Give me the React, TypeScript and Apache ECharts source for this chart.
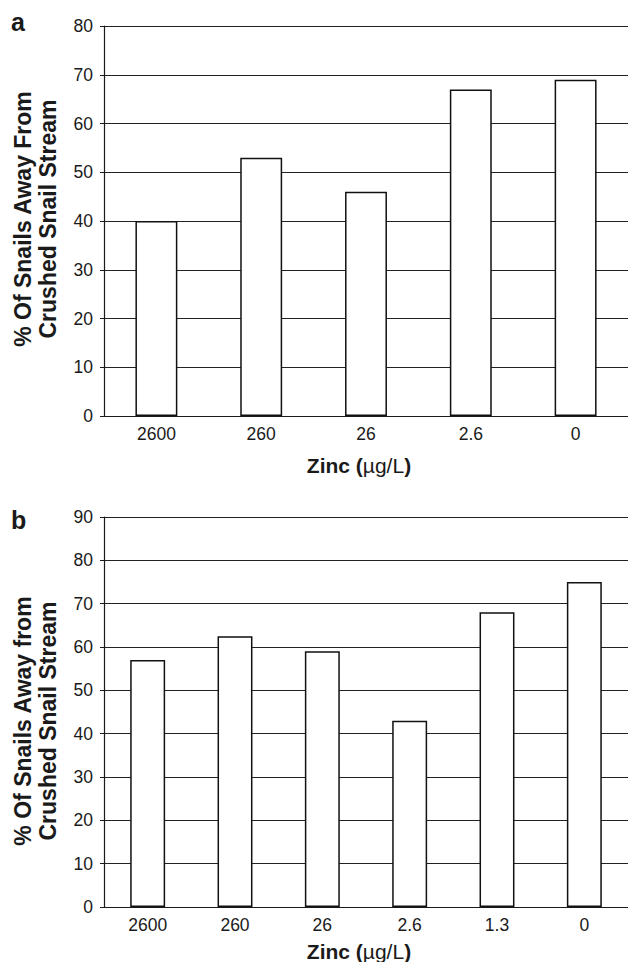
import React, { useEffect, useRef } from "react";
import * as echarts from "echarts";

const catsA = ["2600", "260", "26", "2.6", "0"];
const valsA = [40, 53, 46, 67, 69];
const catsB = ["2600", "260", "26", "2.6", "1.3", "0"];
const valsB = [57, 62.5, 59, 43, 68, 75];
const yTitleA = "% Of Snails Away From\nCrushed Snail Stream";
const yTitleB = "% Of Snails Away from\nCrushed Snail Stream";

const FONT = "'Liberation Sans', Arial, Helvetica, sans-serif";
const INK = "#1a1a1a";

export default function App() {
  const ref = useRef<HTMLDivElement>(null);
  useEffect(() => {
    if (!ref.current) return;
    const chart = echarts.init(ref.current, undefined, { renderer: "svg" });
    const yAxisBase = (max: number, gridIndex: number) => ({
      type: "value" as const,
      gridIndex,
      min: 0,
      max,
      interval: 10,
      axisLine: { show: true, lineStyle: { color: INK, width: 1.2 } },
      axisTick: { show: true, length: 4, inside: false, lineStyle: { color: INK } },
      axisLabel: { fontFamily: FONT, fontSize: 17.5, color: INK, margin: 11 },
      splitLine: { show: true, lineStyle: { color: "#222", width: 1 } },
    });
    const xAxisBase = (data: string[], gridIndex: number) => ({
      type: "category" as const,
      gridIndex,
      data,
      axisLine: { show: true, lineStyle: { color: INK, width: 1.2 } },
      axisTick: { show: false },
      axisLabel: { fontFamily: FONT, fontSize: 17.5, color: INK, margin: 9 },
    });
    const barStyle = {
      color: "#ffffff",
      borderColor: "#111",
      borderWidth: 1.5,
    };
    const xTitle = (y: number) => ({
      type: "text",
      x: 359,
      y,
      style: {
        text: "{b|Zinc (}{r|µg/L}{b|)}",
        align: "center",
        verticalAlign: "middle",
        rich: {
          b: { fontFamily: FONT, fontWeight: "bold", fontSize: 21, fill: INK },
          r: { fontFamily: FONT, fontWeight: "normal", fontSize: 21, fill: INK },
        },
      },
    });
    const yTitle = (text: string, y: number) => ({
      type: "text",
      x: 35,
      y,
      rotation: Math.PI / 2,
      style: {
        text,
        align: "center",
        verticalAlign: "middle",
        fontFamily: FONT,
        fontWeight: "bold",
        fontSize: 23,
        lineHeight: 25,
        fill: INK,
      },
    });
    chart.setOption({
      animation: false,
      grid: [
        { left: 104, top: 26, width: 526, height: 390 },
        { left: 104, top: 517, width: 526, height: 390 },
      ],
      xAxis: [xAxisBase(catsA, 0), xAxisBase(catsB, 1)],
      yAxis: [yAxisBase(80, 0), yAxisBase(90, 1)],
      series: [
        {
          type: "bar",
          xAxisIndex: 0,
          yAxisIndex: 0,
          data: valsA,
          barWidth: "40%",
          itemStyle: barStyle,
        },
        {
          type: "bar",
          xAxisIndex: 1,
          yAxisIndex: 1,
          data: valsB,
          barWidth: "40%",
          itemStyle: barStyle,
        },
      ],
      graphic: [
        {
          type: "text",
          x: 11,
          y: 34,
          style: {
            text: "a",
            fontFamily: FONT,
            fontWeight: "bold",
            fontSize: 25,
            fill: INK,
            verticalAlign: "bottom",
          },
        },
        {
          type: "text",
          x: 11,
          y: 532,
          style: {
            text: "b",
            fontFamily: FONT,
            fontWeight: "bold",
            fontSize: 25,
            fill: INK,
            verticalAlign: "bottom",
          },
        },
        xTitle(465),
        xTitle(951),
        yTitle(yTitleA, 219),
        yTitle(yTitleB, 721),
      ],
    });
    return () => chart.dispose();
  }, []);
  return (
    <div
      ref={ref}
      style={{ position: "fixed", left: 0, top: 0, width: 628, height: 962, background: "#fff" }}
    />
  );
}
